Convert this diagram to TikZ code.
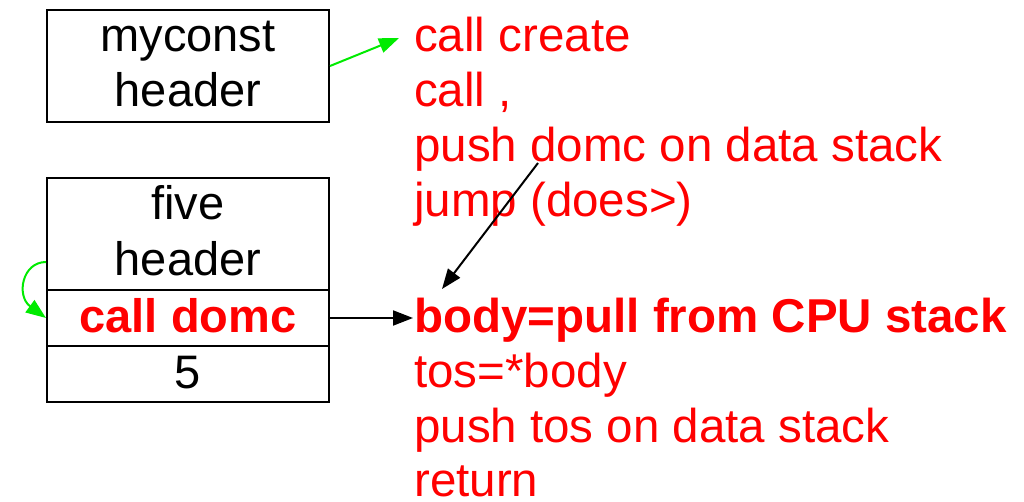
\documentclass[tikz,border=0pt]{standalone}
\usepackage{fontspec}
\setmainfont{Liberation Sans}
\usetikzlibrary{arrows.meta}
\definecolor{codered}{RGB}{255,0,0}
\definecolor{linkgreen}{RGB}{0,235,0}
\begin{document}
\begin{tikzpicture}[x=1pt,y=-1pt,
  cell/.style={draw=black, line width=2pt, minimum width=282pt, inner sep=0pt},
  word/.style={anchor=base, inner sep=0pt, font=\fontsize{47}{55}\selectfont},
  code/.style={anchor=base west, inner sep=0pt, text=codered, font=\fontsize{47.5}{55}\selectfont},
  tip/.style={-{Triangle[length=20pt,width=15pt]}, line width=2pt}]
\useasboundingbox (0,0) rectangle (1024,502);

% dictionary entry of myconst
\node[cell, minimum height=112pt] (mc) at (188,66) {};
\node[word] (mcname) at (188,52) {myconst};
\node[word] (mchead) at (188,107) {header};

% dictionary entry of five: header, code field, data field
\node[cell, minimum height=112pt] (fvhead) at (188,234) {};
\node[cell, minimum height=56pt] (fvcode) at (188,318) {};
\node[cell, minimum height=56pt] (fvdata) at (188,374) {};
\node[word] (fvname) at (188,220) {five};
\node[word] (fvhd) at (188,276) {header};
\node[word, text=codered, font=\fontsize{47}{55}\selectfont\bfseries] (fvcall) at (188,332) {call domc};
\node[word] (fvval) at (188,388) {5};

% code run by the defining word
\node[code] (c1) at (414,52) {call create};
\node[code] (c2) at (414,107) {call ,};
\node[code] (c3) at (414,162) {push domc on data stack};
\node[code] (c4) at (414,217) {jump (does>)};

% code run by domc
\node[code, font=\fontsize{47.5}{55}\selectfont\bfseries] (d1) at (414,332) {body=pull from CPU stack};
\node[code] (d2) at (414,387) {tos=*body};
\node[code] (d3) at (414,442) {push tos on data stack};
\node[code] (d4) at (414,496) {return};

% arrow end points
\coordinate (mcout) at (mc.east |- 0,66);
\coordinate (createin) at (399,38);
\coordinate (domcfrom) at (538,163);
\coordinate (bodyin) at (442,289);
\coordinate (loopout) at (fvhead.west |- 0,262);
\coordinate (loopin) at (fvcode.west);
\coordinate (callin) at (413,318);

\draw[tip, draw=linkgreen] (mcout) -- (createin);
\draw[tip, draw=linkgreen] (loopout) .. controls (22,262) and (16,296) .. (loopin);
\draw[tip] (fvcode.east) -- (callin);
\draw[tip] (domcfrom) -- (bodyin);
\end{tikzpicture}
\end{document}
